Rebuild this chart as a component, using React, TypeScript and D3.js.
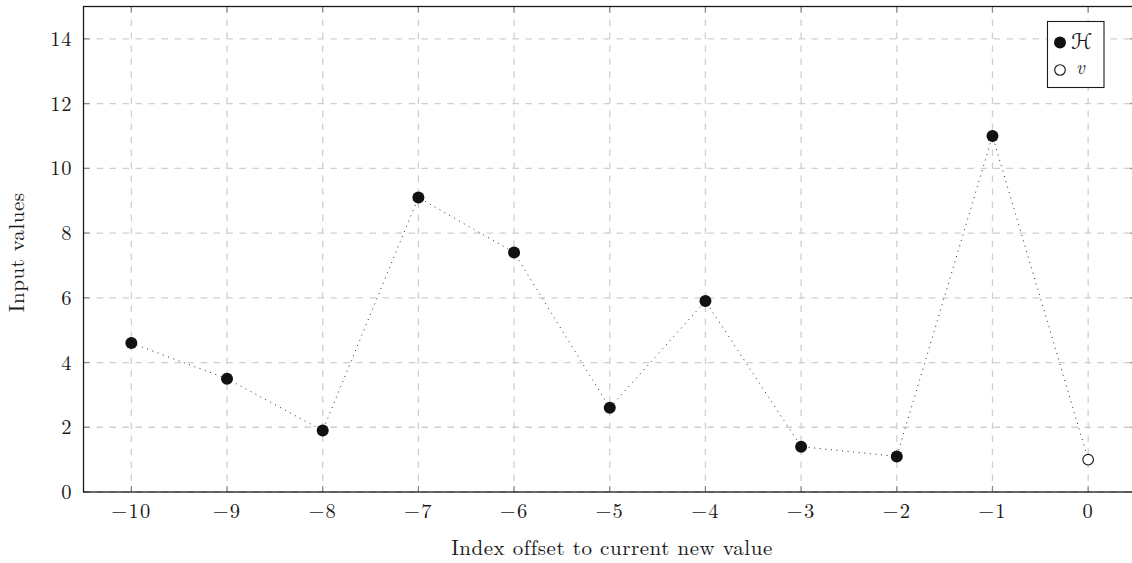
import React from "react";
import * as d3 from "d3";

// Offsets of the stored values relative to the current new value
const offsets: number[] = [-10, -9, -8, -7, -6, -5, -4, -3, -2, -1, 0];
// History values (H) at offsets -10 … -1
const historyValues: number[] = [4.6, 3.5, 1.9, 9.1, 7.4, 2.6, 5.9, 1.4, 1.1, 11.0];
// Current new value (v) at offset 0
const newValue: number[] = [1.0];
const yTicks: number[] = [0, 2, 4, 6, 8, 10, 12, 14];

const W = 1132;
const H = 563;
const plot = { left: 83.5, right: 1136, top: 6.5, bottom: 492 };

const font = "'Latin Modern Roman','CMU Serif','Liberation Serif',serif";

export default function App() {
  const x = d3.scaleLinear().domain([-10.5, 0.5]).range([plot.left, plot.right]);
  const y = d3.scaleLinear().domain([0, 15]).range([plot.bottom, plot.top]);

  const points = offsets.map((o, i) => ({
    o,
    v: i < historyValues.length ? historyValues[i] : newValue[i - historyValues.length],
  }));
  const line = d3
    .line<{ o: number; v: number }>()
    .x((d) => x(d.o))
    .y((d) => y(d.v));

  const tickLen = 6;
  const gridColor = "#cfcfcf";
  const tickColor = "#8a8a8a";

  return (
    <svg
      width={W}
      height={H}
      style={{ position: "absolute", left: 0, top: 0, background: "#fff" }}
      fontFamily={font}
    >
      {/* grid */}
      {offsets.map((o) => (
        <line
          key={"gx" + o}
          x1={x(o)}
          x2={x(o)}
          y1={plot.top}
          y2={plot.bottom}
          stroke={gridColor}
          strokeWidth={1.3}
          strokeDasharray="6.5 6.5"
        />
      ))}
      {yTicks.map((t) => (
        <line
          key={"gy" + t}
          x1={plot.left}
          x2={plot.right}
          y1={y(t)}
          y2={y(t)}
          stroke={gridColor}
          strokeWidth={1.3}
          strokeDasharray="6.5 6.5"
        />
      ))}

      {/* ticks (inside, on all four sides) */}
      {offsets.map((o) => (
        <g key={"tx" + o} stroke={tickColor} strokeWidth={1.2}>
          <line x1={x(o)} x2={x(o)} y1={plot.bottom} y2={plot.bottom - tickLen} />
          <line x1={x(o)} x2={x(o)} y1={plot.top} y2={plot.top + tickLen} />
        </g>
      ))}
      {yTicks.map((t) => (
        <g key={"ty" + t} stroke={tickColor} strokeWidth={1.2}>
          <line x1={plot.left} x2={plot.left + tickLen} y1={y(t)} y2={y(t)} />
          <line x1={plot.right} x2={plot.right - tickLen} y1={y(t)} y2={y(t)} />
        </g>
      ))}

      {/* frame */}
      <rect
        x={plot.left}
        y={plot.top}
        width={plot.right - plot.left}
        height={plot.bottom - plot.top}
        fill="none"
        stroke="#1a1a1a"
        strokeWidth={1.3}
      />

      {/* tick labels */}
      {offsets.map((o) => (
        <text
          key={"lx" + o}
          x={x(o)}
          y={517.5}
          textAnchor="middle"
          fontSize={20.5}
          letterSpacing={1.2}
          fill="#1a1a1a"
        >
          {o < 0 ? "\u2212" + Math.abs(o) : String(o)}
        </text>
      ))}
      {yTicks.map((t) => (
        <text
          key={"ly" + t}
          x={72}
          y={y(t) + 7}
          textAnchor="end"
          fontSize={20.5}
          letterSpacing={0.6}
          fill="#1a1a1a"
        >
          {t}
        </text>
      ))}

      {/* axis titles */}
      <text x={612} y={554.5} textAnchor="middle" fontSize={21} letterSpacing={0.55} fill="#1a1a1a">
        Index offset to current new value
      </text>
      <text
        transform={`translate(24,${(plot.top + plot.bottom) / 2 + 3}) rotate(-90)`}
        textAnchor="middle"
        fontSize={21}
        letterSpacing={0.55}
        fill="#1a1a1a"
      >
        Input values
      </text>

      {/* connecting dotted line */}
      <path
        d={line(points) || ""}
        fill="none"
        stroke="#2a2a2a"
        strokeWidth={1}
        strokeDasharray="1 4.6"
      />

      {/* markers */}
      {points.slice(0, historyValues.length).map((d) => (
        <circle key={"h" + d.o} cx={x(d.o)} cy={y(d.v)} r={6} fill="#111" />
      ))}
      {points.slice(historyValues.length).map((d) => (
        <circle
          key={"v" + d.o}
          cx={x(d.o)}
          cy={y(d.v)}
          r={5.3}
          fill="#fff"
          stroke="#111"
          strokeWidth={1.1}
        />
      ))}

      {/* legend */}
      <g>
        <rect x={1047.5} y={21.5} width={56.5} height={66} fill="#fff" stroke="#1a1a1a" strokeWidth={1.1} />
        <circle cx={1060} cy={42.5} r={6} fill="#111" />
        <text x={1071} y={48.5} fontSize={21.5} fill="#1a1a1a" fontFamily="'DejaVu Sans','Noto Sans',sans-serif">
          ℋ
        </text>
        <circle cx={1060} cy={70} r={5.3} fill="#fff" stroke="#111" strokeWidth={1.1} />
        <text x={1076} y={74} fontSize={19} fill="#1a1a1a" fontStyle="italic">
          v
        </text>
      </g>
    </svg>
  );
}
